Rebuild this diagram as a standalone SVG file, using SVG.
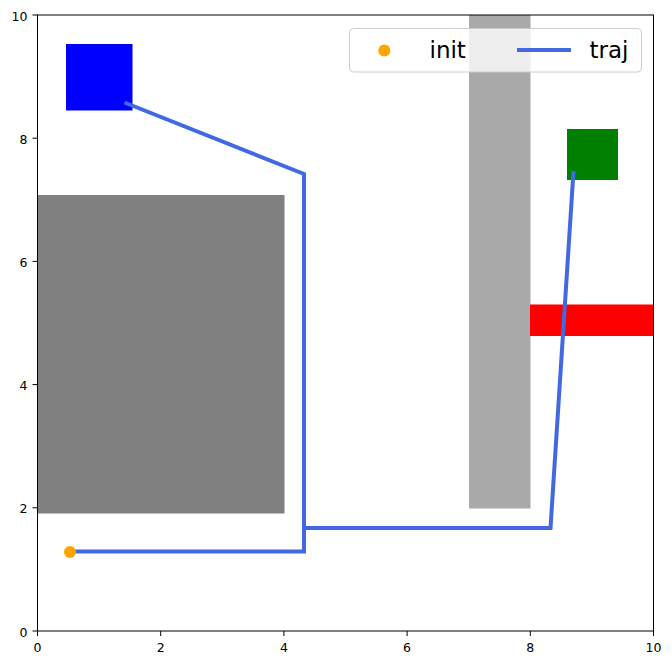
<svg xmlns="http://www.w3.org/2000/svg" width="672" height="665" viewBox="0 0 672 665">
<style>
.tick{stroke:#000;stroke-width:1}
.tl{font-family:"DejaVu Sans",sans-serif;font-size:12.5px;fill:#000}
.traj{fill:none;stroke:#4169e1;stroke-width:4;stroke-linejoin:miter}
.leg{font-family:"DejaVu Sans",sans-serif;font-size:23px;fill:#000}
</style>
<rect x="0" y="0" width="672" height="665" fill="#fff"/>
<g id="obstacles">
<rect id="gray-block" x="37.5" y="195" width="247" height="318.5" fill="#808080"/>
<rect id="column" x="469" y="15" width="61.5" height="493.5" fill="#a9a9a9"/>
<rect id="red-bar" x="530" y="304.5" width="123.5" height="31.5" fill="#ff0000"/>
<rect id="green-goal" x="567" y="129" width="51" height="51" fill="#008000"/>
<rect id="blue-goal" x="66" y="44" width="66.5" height="66.5" fill="#0000ff"/>
</g>
<g id="connectors">
<path class="traj" d="M124.5,102.5 L304,174 L304,551.5 L70,551.5"/>
<path class="traj" d="M304,528 L550.5,528 L573.5,171"/>
</g>
<g id="init">
<circle cx="70" cy="552" r="6" fill="#ffa500"/>
</g>
<g id="axes">
<rect x="37.5" y="15" width="616" height="616" fill="none" stroke="#000" stroke-width="1"/>
<g class="tick">
<line x1="37.5" y1="631" x2="37.5" y2="636"/>
<line x1="160.7" y1="631" x2="160.7" y2="636"/>
<line x1="283.9" y1="631" x2="283.9" y2="636"/>
<line x1="407.1" y1="631" x2="407.1" y2="636"/>
<line x1="530.3" y1="631" x2="530.3" y2="636"/>
<line x1="653.5" y1="631" x2="653.5" y2="636"/>
<line x1="37.5" y1="631" x2="32.5" y2="631"/>
<line x1="37.5" y1="507.8" x2="32.5" y2="507.8"/>
<line x1="37.5" y1="384.6" x2="32.5" y2="384.6"/>
<line x1="37.5" y1="261.4" x2="32.5" y2="261.4"/>
<line x1="37.5" y1="138.2" x2="32.5" y2="138.2"/>
<line x1="37.5" y1="15" x2="32.5" y2="15"/>
</g>
<g class="tl" text-anchor="middle">
<text x="37.5" y="651.5">0</text>
<text x="160.7" y="651.5">2</text>
<text x="283.9" y="651.5">4</text>
<text x="407.1" y="651.5">6</text>
<text x="530.3" y="651.5">8</text>
<text x="653.5" y="651.5">10</text>
</g>
<g class="tl" text-anchor="end">
<text x="27.5" y="636.5">0</text>
<text x="27.5" y="513.3">2</text>
<text x="27.5" y="390.1">4</text>
<text x="27.5" y="266.9">6</text>
<text x="27.5" y="143.7">8</text>
<text x="27.5" y="20.5">10</text>
</g>
</g>
<g id="legend">
<rect x="349.5" y="28.5" width="292" height="43.5" rx="4" fill="#fff" fill-opacity="0.8" stroke="#cccccc" stroke-width="1"/>
<circle cx="384.3" cy="50.5" r="6" fill="#ffa500"/>
<text class="leg" x="429.5" y="57.5">init</text>
<line x1="517" y1="50" x2="571" y2="50" stroke="#4169e1" stroke-width="4"/>
<text class="leg" x="589.5" y="57.5">traj</text>
</g>
</svg>
